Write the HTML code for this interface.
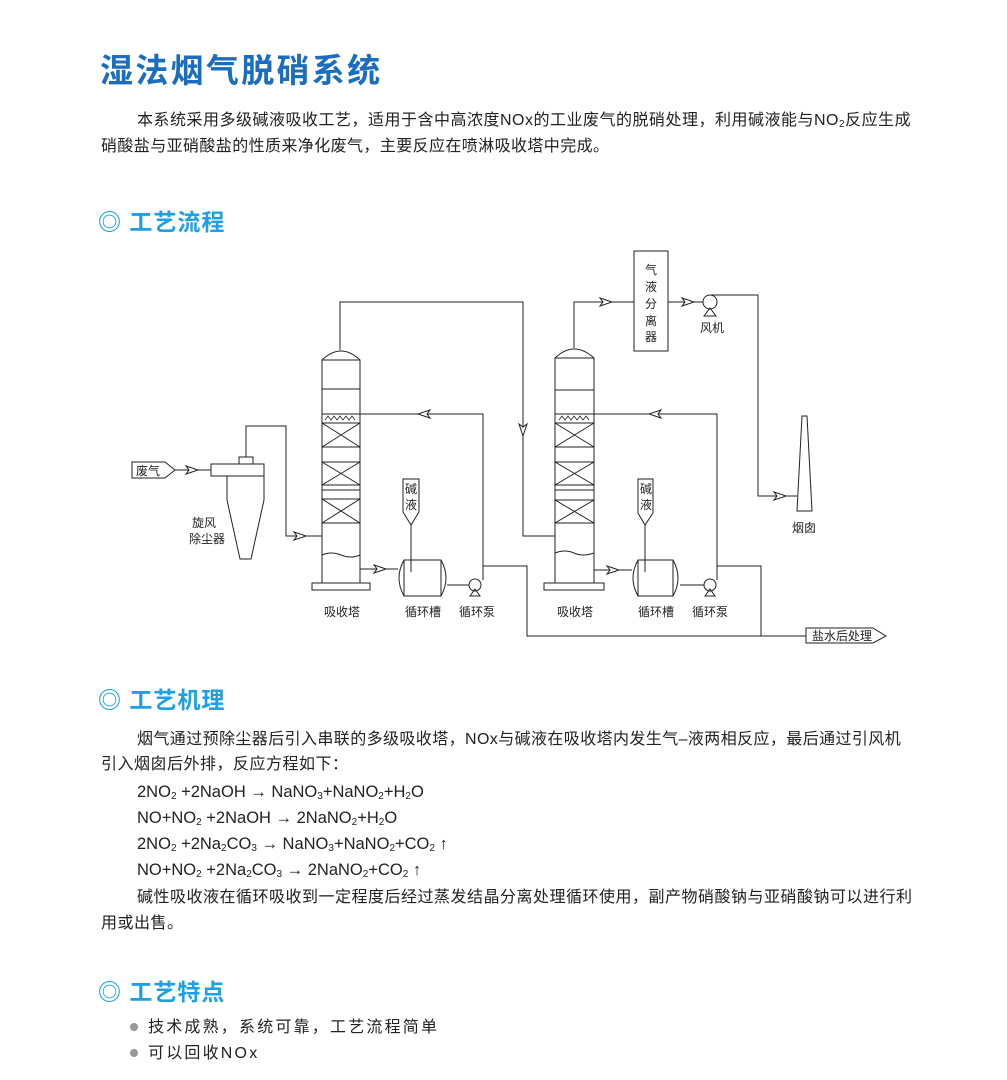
<!DOCTYPE html>
<html><head><meta charset="utf-8"><style>
body{margin:0;background:#fff;width:1007px;height:1080px;position:relative;overflow:hidden;font-family:"Liberation Sans","Noto Sans CJK SC",sans-serif;color:#222}
.t{position:absolute;white-space:nowrap;font-size:16px;line-height:20px}
.h1{position:absolute;left:100px;top:44px;font-size:33px;font-weight:bold;color:#1a6ebd;letter-spacing:2.3px;white-space:nowrap}
.h2{position:absolute;left:98px;font-size:23px;font-weight:bold;color:#1ea0e6;white-space:nowrap;line-height:28px;letter-spacing:1px}
.eq{position:absolute;left:137px;font-size:16.5px;white-space:nowrap;line-height:20px}
sub{font-size:10px;vertical-align:-2px;line-height:0}
.dot{position:absolute;left:130px;width:8px;height:8px;border-radius:50%;background:#999}
</style></head><body>
<div class="h1">湿法烟气脱硝系统</div>
<div class="t" style="left:137px;top:111px;letter-spacing:0.5px">本系统采用多级碱液吸收工艺，适用于含中高浓度NOx的工业废气的脱硝处理，利用碱液能与NO<sub>2</sub>反应生成</div>
<div class="t" style="left:101px;top:137px;letter-spacing:0.4px">硝酸盐与亚硝酸盐的性质来净化废气，主要反应在喷淋吸收塔中完成。</div>
<div class="h2" style="top:208px">◎ 工艺流程</div>

<svg style="position:absolute;left:0;top:0" width="1007" height="1080" font-family="Liberation Sans, Noto Sans CJK SC, sans-serif" font-size="12" fill="none" stroke="#222" stroke-width="1">
<defs><path id="ar" d="M-6,-4 L6,0 L-6,4 L-3,0 Z" fill="#fff"/></defs>
<path d="M132,462 H165 L175,470 L165,478 H132 Z"/>
<text x="136" y="475" fill="#222" stroke="none" font-size="12">废气</text>
<line x1="175" y1="470" x2="211" y2="470"/>
<use href="#ar" x="192" y="470"/>
<rect x="211" y="464" width="53" height="12"/>
<rect x="239" y="457" width="14" height="7"/>
<path d="M227,476 V500 L240,559 H251 L264,500 V476"/>
<path d="M246,457 V426 H286 V536 H322"/>
<use href="#ar" x="300" y="536"/>
<text x="192" y="527" fill="#222" stroke="none">旋风</text>
<text x="189" y="543" fill="#222" stroke="none">除尘器</text>
<path d="M322,583 V360 Q341,342 360,360 V583"/>
<line x1="322" y1="360" x2="360" y2="360"/>
<line x1="322" y1="389" x2="360" y2="389"/>
<line x1="322" y1="414" x2="360" y2="414"/>
<path d="M325,420 l3,-4 l3,4 l3,-4 l3,4 l3,-4 l3,4 l3,-4 l3,4 l3,-4 l3,4" stroke-width="0.8"/>
<rect x="322" y="423" width="38" height="24"/><path d="M322,423 L360,447 M360,423 L322,447"/>
<rect x="322" y="462" width="38" height="23"/><path d="M322,462 L360,485 M360,462 L322,485"/>
<line x1="322" y1="490" x2="360" y2="490"/>
<rect x="322" y="499" width="38" height="24"/><path d="M322,499 L360,523 M360,499 L322,523"/>
<path d="M322,555 Q331,551 341,555 T360,555"/>
<rect x="312" y="583" width="58" height="7"/>
<text x="324" y="616" fill="#222" stroke="none">吸收塔</text>
<path d="M340,350 V302 H523 V536 H555"/>
<use href="#ar" transform="translate(523,430) rotate(90)"/>
<path d="M360,414 H483 V580"/>
<use href="#ar" transform="translate(424,414) rotate(180)"/>
<path d="M360,569 H398"/>
<use href="#ar" x="380" y="569"/>
<path d="M403,479 H419 V512 L411,525 L403,512 Z"/>
<text x="405" y="493" fill="#222" stroke="none">碱</text>
<text x="405" y="509" fill="#222" stroke="none">液</text>
<line x1="411" y1="525" x2="411" y2="572"/>
<path d="M404,560 H441 Q451,578 441,596 H404 Q394,578 404,560 Z"/>
<line x1="404" y1="560" x2="404" y2="596"/><line x1="441" y1="560" x2="441" y2="596"/>
<line x1="447" y1="585" x2="469" y2="585"/>
<circle cx="475" cy="585" r="6" fill="#fff"/>
<path d="M470,596 L475,589 L480,596 Z"/>
<text x="405" y="616" fill="#222" stroke="none">循环槽</text>
<text x="459" y="616" fill="#222" stroke="none">循环泵</text>
<path d="M483,566 H527 V636 H806"/>
<path d="M555,583 V358 Q574,340 594,358 V583"/>
<line x1="555" y1="358" x2="594" y2="358"/>
<line x1="555" y1="390" x2="594" y2="390"/>
<line x1="555" y1="414" x2="594" y2="414"/>
<path d="M559,420 l3,-4 l3,4 l3,-4 l3,4 l3,-4 l3,4 l3,-4 l3,4 l3,-4 l3,4" stroke-width="0.8"/>
<rect x="555" y="423" width="39" height="24"/><path d="M555,423 L594,447 M594,423 L555,447"/>
<rect x="555" y="462" width="39" height="23"/><path d="M555,462 L594,485 M594,462 L555,485"/>
<line x1="555" y1="490" x2="594" y2="490"/>
<rect x="555" y="500" width="39" height="23"/><path d="M555,500 L594,523 M594,500 L555,523"/>
<path d="M555,553 Q565,549 574,553 T594,553"/>
<rect x="544" y="583" width="60" height="7"/>
<text x="557" y="616" fill="#222" stroke="none">吸收塔</text>
<path d="M574,348 V302 H634"/>
<use href="#ar" x="606" y="302"/>
<rect x="634" y="251" width="34" height="100"/>
<g fill="#222" stroke="none"><text x="645" y="274">气</text><text x="645" y="291">液</text><text x="645" y="308">分</text><text x="645" y="325">离</text><text x="645" y="341">器</text></g>
<line x1="668" y1="302" x2="703" y2="302"/>
<use href="#ar" x="688" y="302"/>
<circle cx="710" cy="302" r="7" fill="#fff"/>
<path d="M704,316 L710,308 L716,316 Z"/>
<text x="700" y="332" fill="#222" stroke="none">风机</text>
<path d="M710,295 H758 V496 H797"/>
<use href="#ar" x="780" y="496"/>
<path d="M802,416 H807 L812,511 H797 Z"/>
<text x="792" y="532" fill="#222" stroke="none">烟囱</text>
<path d="M594,414 H717 V580"/>
<use href="#ar" transform="translate(655,414) rotate(180)"/>
<path d="M594,570 H632"/>
<use href="#ar" x="613" y="570"/>
<path d="M638,479 H653 V513 L645,525 L638,513 Z"/>
<text x="640" y="493" fill="#222" stroke="none">碱</text>
<text x="640" y="509" fill="#222" stroke="none">液</text>
<line x1="645" y1="525" x2="645" y2="572"/>
<path d="M638,560 H673 Q683,578 673,596 H638 Q628,578 638,560 Z"/>
<line x1="638" y1="560" x2="638" y2="596"/><line x1="673" y1="560" x2="673" y2="596"/>
<line x1="680" y1="585" x2="704" y2="585"/>
<circle cx="710" cy="585" r="6" fill="#fff"/>
<path d="M705,596 L710,589 L715,596 Z"/>
<text x="638" y="616" fill="#222" stroke="none">循环槽</text>
<text x="692" y="616" fill="#222" stroke="none">循环泵</text>
<path d="M717,566 H761 V636"/>
<path d="M806,628 H873 L886,636 L873,643 H806 Z"/>
<text x="812" y="640" fill="#222" stroke="none">盐水后处理</text>
</svg>

<div class="h2" style="top:686px">◎ 工艺机理</div>
<div class="t" style="left:137px;top:730px;letter-spacing:0.4px">烟气通过预除尘器后引入串联的多级吸收塔，NOx与碱液在吸收塔内发生气–液两相反应，最后通过引风机</div>
<div class="t" style="left:101px;top:755px;letter-spacing:0.5px">引入烟囱后外排，反应方程如下：</div>
<div class="eq" style="top:782px">2NO<sub>2</sub> +2NaOH → NaNO<sub>3</sub>+NaNO<sub>2</sub>+H<sub>2</sub>O</div>
<div class="eq" style="top:808px">NO+NO<sub>2</sub> +2NaOH → 2NaNO<sub>2</sub>+H<sub>2</sub>O</div>
<div class="eq" style="top:834px">2NO<sub>2</sub> +2Na<sub>2</sub>CO<sub>3</sub> → NaNO<sub>3</sub>+NaNO<sub>2</sub>+CO<sub>2</sub> ↑</div>
<div class="eq" style="top:860px">NO+NO<sub>2</sub> +2Na<sub>2</sub>CO<sub>3</sub> → 2NaNO<sub>2</sub>+CO<sub>2</sub> ↑</div>
<div class="t" style="left:137px;top:888px;letter-spacing:0.5px">碱性吸收液在循环吸收到一定程度后经过蒸发结晶分离处理循环使用，副产物硝酸钠与亚硝酸钠可以进行利</div>
<div class="t" style="left:101px;top:914px;letter-spacing:0.5px">用或出售。</div>

<div class="h2" style="top:978px">◎ 工艺特点</div>
<div class="dot" style="top:1023px"></div>
<div class="t" style="left:148px;top:1018px;letter-spacing:2.2px">技术成熟，系统可靠，工艺流程简单</div>
<div class="dot" style="top:1049px"></div>
<div class="t" style="left:148px;top:1044px;letter-spacing:2.2px">可以回收NOx</div>
</body></html>
